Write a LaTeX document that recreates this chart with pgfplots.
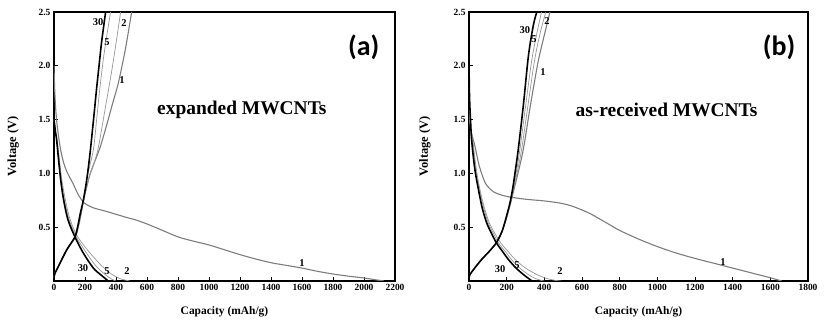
\documentclass[border=0pt]{standalone}
\usepackage{pgfplots}
\pgfplotsset{compat=1.18}
\usepackage{fontspec}
\setmainfont{Liberation Serif}
\newfontfamily\calfont{Carlito}
\definecolor{cgray}{RGB}{125,125,125}
\definecolor{lgray}{RGB}{150,150,150}
\tikzset{lab/.style={font=\bfseries\fontsize{10.5}{11}\selectfont, inner sep=0pt}}
\pgfplotsset{
  panel/.style={
    scale only axis, height=269bp, ymin=0, ymax=2.5,
    anchor=south west,
    axis line style={line width=1.3pt},
    tick align=inside, xtick pos=bottom, ytick pos=left,
    major tick length=4bp,
    tick style={line width=0.9pt, black},
    ytick={0.5,1.0,1.5,2.0,2.5},
    yticklabel style={/pgf/number format/.cd, fixed, fixed zerofill, precision=1},
    xticklabel style={/pgf/number format/1000 sep={}},
    /pgf/number format/assume math mode=true,
    ticklabel style={font=\bfseries\fontsize{9.5}{10}\selectfont},
    xlabel={Capacity (mAh/g)}, ylabel={Voltage (V)},
    xlabel style={font=\bfseries\fontsize{11.5}{12}\selectfont, at={(axis description cs:0.5,-0.115)}, anchor=center},
    clip=true,
  },
  c30/.style={black, line width=1.6pt, smooth},
  c5/.style={lgray, line width=0.7pt, smooth},
  c2/.style={lgray, line width=0.7pt, smooth},
  c1/.style={cgray, line width=1.1pt, smooth},
}
\begin{document}
\begin{tikzpicture}
\path[use as bounding box] (0,0) rectangle (827bp,325bp);
% ---------------- (a)
\begin{axis}[panel, at={(54bp,44bp)}, width=341bp, xmin=0, xmax=2200,
  xtick={0,200,...,2200},
  ylabel style={font=\bfseries\fontsize{12.5}{13}\selectfont, at={(axis description cs:-0.12,0.5)}, anchor=center}]
\addplot[c1] coordinates {(0,2.0)(4,1.8)(10,1.62)(20,1.45)(39,1.25)(60,1.11)(85,1.01)(125,0.9)(150,0.82)(175,0.76)(200,0.72)(254,0.68)(330,0.65)(400,0.62)(470,0.59)(533,0.565)(600,0.53)(684,0.48)(800,0.41)(900,0.37)(1000,0.335)(1100,0.29)(1200,0.245)(1300,0.205)(1400,0.17)(1500,0.145)(1600,0.12)(1700,0.09)(1800,0.065)(1900,0.045)(2000,0.028)(2080,0.01)(2130,0)};
\addplot[c2] coordinates {(0,1.5)(12,1.37)(22,1.29)(48,0.97)(70,0.78)(100,0.59)(145,0.43)(215,0.29)(295,0.16)(365,0.07)(430,0.02)(490,0)};
\addplot[c5] coordinates {(0,1.5)(12,1.36)(20,1.28)(45,0.96)(65,0.77)(95,0.58)(140,0.42)(200,0.28)(270,0.14)(330,0.06)(375,0.015)(400,0)};
\addplot[c1] coordinates {(0,0.03)(6,0.07)(40,0.17)(84,0.29)(138,0.41)(160,0.52)(176,0.63)(194,0.77)(230,0.98)(260,1.1)(297,1.24)(340,1.45)(380,1.66)(415,1.84)(460,2.15)(501,2.5)};
\addplot[c2] coordinates {(0,0.03)(6,0.07)(40,0.17)(82,0.29)(137,0.41)(158,0.52)(174,0.63)(194,0.77)(225,0.96)(255,1.08)(286,1.24)(330,1.6)(380,2.02)(430,2.5)};
\addplot[c5] coordinates {(0,0.03)(6,0.07)(40,0.17)(82,0.29)(135,0.41)(157,0.52)(172,0.63)(192,0.76)(215,0.97)(254,1.22)(275,1.5)(295,1.78)(320,2.08)(345,2.32)(365,2.5)};
\addplot[c30] coordinates {(0,1.5)(10,1.38)(17,1.31)(40,0.98)(60,0.77)(90,0.57)(135,0.41)(189,0.26)(254,0.12)(300,0.06)(329,0.025)(350,0.0)};
\addplot[c30] coordinates {(0,0.03)(6,0.07)(40,0.17)(82,0.29)(135,0.41)(155,0.52)(170,0.63)(189,0.75)(210,0.93)(232,1.18)(255,1.5)(275,1.79)(292,2.02)(307,2.22)(333,2.5)};
\node[lab] at (axis cs:284,2.41) {30};
\node[lab] at (axis cs:342,2.22) {5};
\node[lab] at (axis cs:452,2.40) {2};
\node[lab] at (axis cs:439,1.87) {1};
\node[lab] at (axis cs:187,0.12) {30};
\node[lab] at (axis cs:342,0.09) {5};
\node[lab] at (axis cs:471,0.09) {2};
\node[lab] at (axis cs:1600,0.17) {1};
\node[font=\bfseries\fontsize{19.5}{20}\selectfont] at (axis cs:1212,1.59) {expanded MWCNTs};
\node[font=\calfont\bfseries\fontsize{28}{30}\selectfont] at (axis cs:1998,2.17) {(a)};
\end{axis}
% ---------------- (b)
\begin{axis}[panel, at={(469bp,44bp)}, width=339bp, xmin=0, xmax=1800,
  xtick={0,200,...,1800},
  ylabel style={font=\bfseries\fontsize{12.5}{13}\selectfont, at={(axis description cs:-0.13,0.5)}, anchor=center}]
\addplot[c1] coordinates {(0,1.55)(10,1.4)(32,1.25)(50,1.1)(67,1.0)(90,0.9)(129,0.83)(170,0.8)(218,0.78)(300,0.76)(395,0.745)(480,0.725)(540,0.7)(600,0.66)(650,0.62)(700,0.57)(750,0.52)(800,0.47)(900,0.39)(1000,0.32)(1100,0.26)(1200,0.21)(1300,0.165)(1400,0.12)(1500,0.075)(1600,0.03)(1660,0)};
\addplot[c2] coordinates {(0,1.6)(10,1.42)(22,1.28)(38,1.05)(58,0.85)(82,0.68)(108,0.54)(138,0.44)(170,0.35)(210,0.27)(245,0.2)(300,0.12)(360,0.06)(410,0.025)(460,0.005)(490,0)};
\addplot[c5] coordinates {(0,1.6)(10,1.4)(20,1.28)(35,1.05)(55,0.85)(78,0.68)(102,0.54)(130,0.44)(158,0.35)(195,0.27)(225,0.2)(270,0.12)(315,0.06)(350,0.025)(385,0.005)(400,0)};
\addplot[c1] coordinates {(0,0.03)(5,0.06)(30,0.12)(67,0.2)(110,0.28)(147,0.36)(175,0.46)(193,0.55)(208,0.64)(222,0.73)(240,0.86)(260,1.0)(289,1.23)(325,1.62)(365,2.02)(395,2.25)(430,2.5)};
\addplot[c2] coordinates {(0,0.03)(5,0.06)(30,0.12)(67,0.2)(110,0.28)(147,0.36)(175,0.46)(192,0.55)(207,0.64)(220,0.73)(236,0.86)(255,1.0)(280,1.23)(312,1.62)(348,2.05)(380,2.32)(408,2.5)};
\addplot[c5] coordinates {(0,0.03)(5,0.06)(30,0.12)(67,0.2)(110,0.28)(147,0.36)(175,0.46)(191,0.55)(206,0.64)(219,0.73)(234,0.86)(250,1.0)(271,1.23)(300,1.62)(333,2.05)(360,2.3)(385,2.5)};
\addplot[c30] coordinates {(0,2.0)(3,1.7)(8,1.5)(14,1.31)(30,1.05)(50,0.85)(70,0.68)(94,0.54)(120,0.44)(147,0.35)(180,0.27)(209,0.2)(250,0.12)(289,0.06)(315,0.025)(335,0)};
\addplot[c30] coordinates {(0,0.03)(5,0.06)(30,0.12)(67,0.2)(110,0.28)(147,0.36)(175,0.46)(191,0.55)(205,0.64)(218,0.73)(232,0.86)(244,1.0)(262,1.23)(289,1.64)(316,2.1)(342,2.38)(360,2.5)};
\node[lab] at (axis cs:297,2.33) {30};
\node[lab] at (axis cs:345,2.25) {5};
\node[lab] at (axis cs:414,2.42) {2};
\node[lab] at (axis cs:393,1.94) {1};
\node[lab] at (axis cs:165,0.11) {30};
\node[lab] at (axis cs:255,0.15) {5};
\node[lab] at (axis cs:483,0.09) {2};
\node[lab] at (axis cs:1349,0.18) {1};
\node[font=\bfseries\fontsize{19.5}{20}\selectfont] at (axis cs:1049,1.59) {as-received MWCNTs};
\node[font=\calfont\bfseries\fontsize{28}{30}\selectfont] at (axis cs:1646,2.17) {(b)};
\end{axis}
\end{tikzpicture}
\end{document}
